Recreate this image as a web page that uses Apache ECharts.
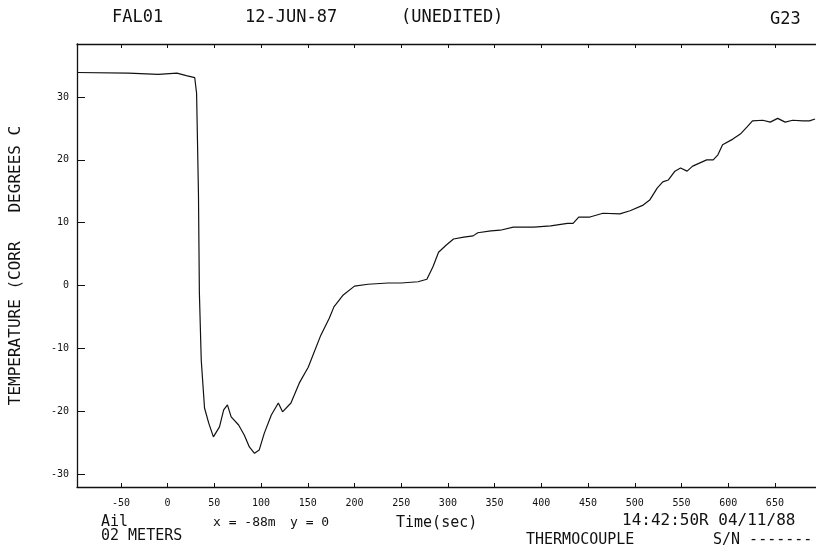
<!DOCTYPE html>
<html>
<head>
<meta charset="utf-8">
<script src="https://cdn.jsdelivr.net/npm/echarts@6/dist/echarts.min.js"></script>
<style>html,body{margin:0;padding:0;background:#fff}#c{width:816px;height:556px}</style>
</head>
<body>
<div id="c"></div>
<script>
// Time (sec) and corrected temperature (deg C)
const timeSec = [-97,-42,-10,10,20,29,31,33,34,36,39.5,44,49,55.5,60,64,68,76,82,87.5,93,98,103.5,111,118.5,123,132,141,150.5,164,173,178,188,200,214.5,236,250,268,277.5,284,290,298,306,317,327,332,346,356,370,392,410,428,434,440,452,466,484,495,509,516,524,530,536,543,549,556,562,577,584,589,594,605,613,620,626,637,645,653,661,669,680,687,693];
const tempC = [33.9,33.8,33.6,33.8,33.4,33.1,30.6,14.7,-1.2,-11.9,-19.5,-21.9,-24.1,-22.5,-19.8,-19.0,-20.9,-22.2,-23.8,-25.7,-26.7,-26.2,-23.5,-20.6,-18.7,-20.1,-18.7,-15.5,-13.0,-7.9,-5.2,-3.4,-1.5,-0.1,0.2,0.4,0.4,0.6,1.0,3.0,5.3,6.4,7.4,7.7,7.9,8.4,8.7,8.8,9.3,9.3,9.5,9.9,9.9,10.9,10.9,11.5,11.4,11.9,12.8,13.6,15.5,16.5,16.8,18.2,18.7,18.2,19.0,20.0,20.0,20.8,22.4,23.3,24.1,25.2,26.2,26.3,26.0,26.6,26.0,26.3,26.2,26.2,26.5];
const xTicks = [-50,0,50,100,150,200,250,300,350,400,450,500,550,600,650];
const yTicks = [-30,-20,-10,0,10,20,30];
const titleParts = ['FAL01','12-JUN-87','(UNEDITED)','G23'];
const yName = 'TEMPERATURE (CORR   DEGREES C';

const FONT = 'DejaVu Sans Mono';
const INK = '#111';
const data = timeSec.map((t,i)=>[t,tempC[i]]);

const chart = echarts.init(document.getElementById('c'), null, {renderer:'canvas'});
function txt(s,x,y,size,align){
  return {type:'text',x:x,y:y,style:{text:s,fill:INK,font:size+'px "'+FONT+'"',textAlign:align||'left',textVerticalAlign:'middle'}};
}
chart.setOption({
  animation:false,
  backgroundColor:'#fff',
  grid:{left:75,right:0,top:44,bottom:69,containLabel:false},
  xAxis:[{
    type:'value',position:'bottom',min:-97,max:694,
    axisLine:{show:true,onZero:false,lineStyle:{color:INK,width:1.3}},
    axisTick:{show:true,inside:true,length:4,customValues:xTicks,lineStyle:{color:INK}},
    axisLabel:{show:true,customValues:xTicks,fontFamily:FONT,fontSize:10,color:INK,margin:11},
    splitLine:{show:false}
  },{
    type:'value',position:'top',min:-97,max:694,
    axisLine:{show:true,onZero:false,lineStyle:{color:INK,width:1.3}},
    axisTick:{show:true,inside:true,length:4,customValues:xTicks,lineStyle:{color:INK}},
    axisLabel:{show:false},
    splitLine:{show:false}
  }],
  yAxis:{
    type:'value',min:-32.07,max:38.44,
    name:yName,nameLocation:'middle',nameGap:53,nameRotate:90,
    nameTextStyle:{fontFamily:FONT,fontSize:16,color:INK},
    axisLine:{show:true,onZero:false,lineStyle:{color:INK,width:1.3}},
    axisTick:{show:true,inside:true,length:8,customValues:yTicks,lineStyle:{color:INK}},
    axisLabel:{show:true,customValues:yTicks,fontFamily:FONT,fontSize:10,color:INK,margin:8},
    splitLine:{show:false}
  },
  series:[{
    type:'line',data:data,xAxisIndex:0,showSymbol:false,smooth:false,
    lineStyle:{color:INK,width:1.2},clip:true
  }],
  graphic:[
    txt(titleParts[0],112,18,17),
    txt(titleParts[1],245,18,17),
    txt(titleParts[2],401,18,17),
    txt(titleParts[3],770,20,17),
    txt('Ail',101,522,15),
    txt('02 METERS',101,536,15),
    txt('x = -88m',213,523,13),
    txt('y = 0',290,523,13),
    txt('Time(sec)',396,523,15),
    txt('14:42:50R 04/11/88',622,521,16),
    txt('THERMOCOUPLE',526,540,15),
    txt('S/N -------',713,540,15)
  ]
});
</script>
</body>
</html>
